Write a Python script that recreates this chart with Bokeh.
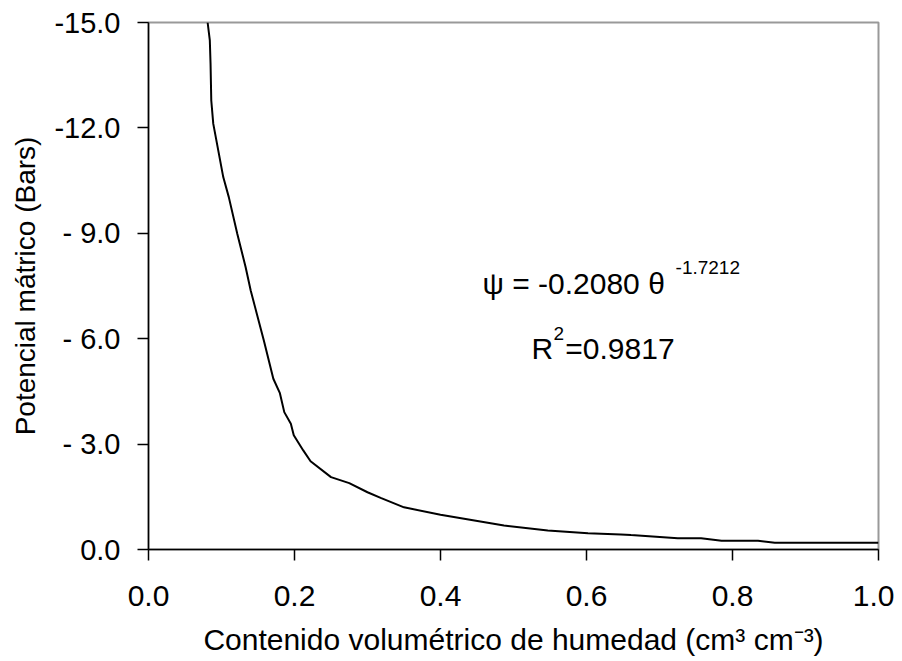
from bokeh.plotting import figure
from bokeh.models import Range1d, Label, FixedTicker
from bokeh.embed import file_html
from bokeh.resources import INLINE

# Soil water retention curve
theta = [0.081, 0.084, 0.085, 0.086, 0.0887, 0.1024, 0.110, 0.1216, 0.133, 0.140,
         0.158, 0.171, 0.180, 0.186, 0.195, 0.199, 0.212, 0.222, 0.250, 0.275,
         0.300, 0.318, 0.350, 0.400, 0.487, 0.547, 0.602, 0.647, 0.661, 0.725,
         0.757, 0.785, 0.835, 0.858, 1.000]
psi = [15.0, 14.49, 13.83, 12.78, 12.12, 10.6, 10.03, 8.99, 8.04, 7.37,
       5.95, 4.86, 4.45, 3.91, 3.58, 3.25, 2.82, 2.51, 2.06, 1.89,
       1.63, 1.47, 1.20, 0.99, 0.68, 0.54, 0.46, 0.43, 0.41, 0.32,
       0.32, 0.25, 0.25, 0.19, 0.19]

x_ticks = [0.0, 0.2, 0.4, 0.6, 0.8, 1.0]
x_tick_labels = ["0.0", "0.2", "0.4", "0.6", "0.8", "1.0"]
y_ticks = [0, 3, 6, 9, 12, 15]
y_tick_labels = ["0.0", "- 3.0", "- 6.0", "- 9.0", "-12.0", "-15.0"]

x_title = "Contenido volumétrico de humedad (cm³ cm⁻³)"
y_title = "Potencial mátrico (Bars)"
eq_main = "ψ = -0.2080 θ"
eq_exp = "-1.7212"
r2_r = "R"
r2_sup = "2"
r2_val = "=0.9817"

FONT = "Liberation Sans"

p = figure(width=894, height=661, output_backend="svg", toolbar_location=None,
           x_range=Range1d(0, 1), y_range=Range1d(0, 15),
           min_border_left=148, min_border_right=16, min_border_top=22,
           min_border_bottom=112)

p.line(theta, psi, line_color="black", line_width=2)

p.grid.visible = False
p.background_fill_color = "white"
p.border_fill_color = "white"
p.outline_line_color = "#999999"
p.outline_line_width = 2

for ax in (p.xaxis[0], p.yaxis[0]):
    ax.axis_line_color = "black"
    ax.axis_line_width = 1.5
    ax.major_tick_line_color = "black"
    ax.major_tick_line_width = 1.5
    ax.major_tick_in = 0
    ax.major_tick_out = 11
    ax.minor_tick_line_color = None
    ax.major_label_text_font = FONT
    ax.major_label_text_color = "black"
    ax.axis_label_text_font = FONT
    ax.axis_label_text_font_style = "normal"
    ax.axis_label_text_color = "black"

p.xaxis[0].major_label_text_font_size = "30px"
p.xaxis[0].axis_label_text_font_size = "30px"
p.yaxis[0].major_label_text_font_size = "29px"
p.yaxis[0].axis_label_text_font_size = "28px"

p.xaxis[0].ticker = FixedTicker(ticks=x_ticks)
p.xaxis[0].major_label_overrides = {t: l for t, l in zip(x_ticks, x_tick_labels)}
p.yaxis[0].ticker = FixedTicker(ticks=y_ticks)
p.yaxis[0].major_label_overrides = {t: l for t, l in zip(y_ticks, y_tick_labels)}
p.xaxis[0].axis_label = x_title
p.yaxis[0].axis_label = y_title
p.xaxis[0].major_label_standoff = 25
p.xaxis[0].axis_label_standoff = 14
p.yaxis[0].major_label_standoff = 17
p.yaxis[0].axis_label_standoff = 10

def lab(x, y, text, size, align="left"):
    p.add_layout(Label(x=x, y=y, text=text, text_font=FONT, text_font_size=size,
                       text_color="black", text_baseline="alphabetic", text_align=align))

lab(0.4575, 7.57, eq_main, "30px")
lab(0.722, 8.03, eq_exp, "19px")
lab(0.5247, 5.72, r2_r, "30px")
lab(0.5548, 6.15, r2_sup, "19px")
lab(0.571, 5.72, r2_val, "30px")

open("out.html", "w").write(file_html(p, INLINE))
